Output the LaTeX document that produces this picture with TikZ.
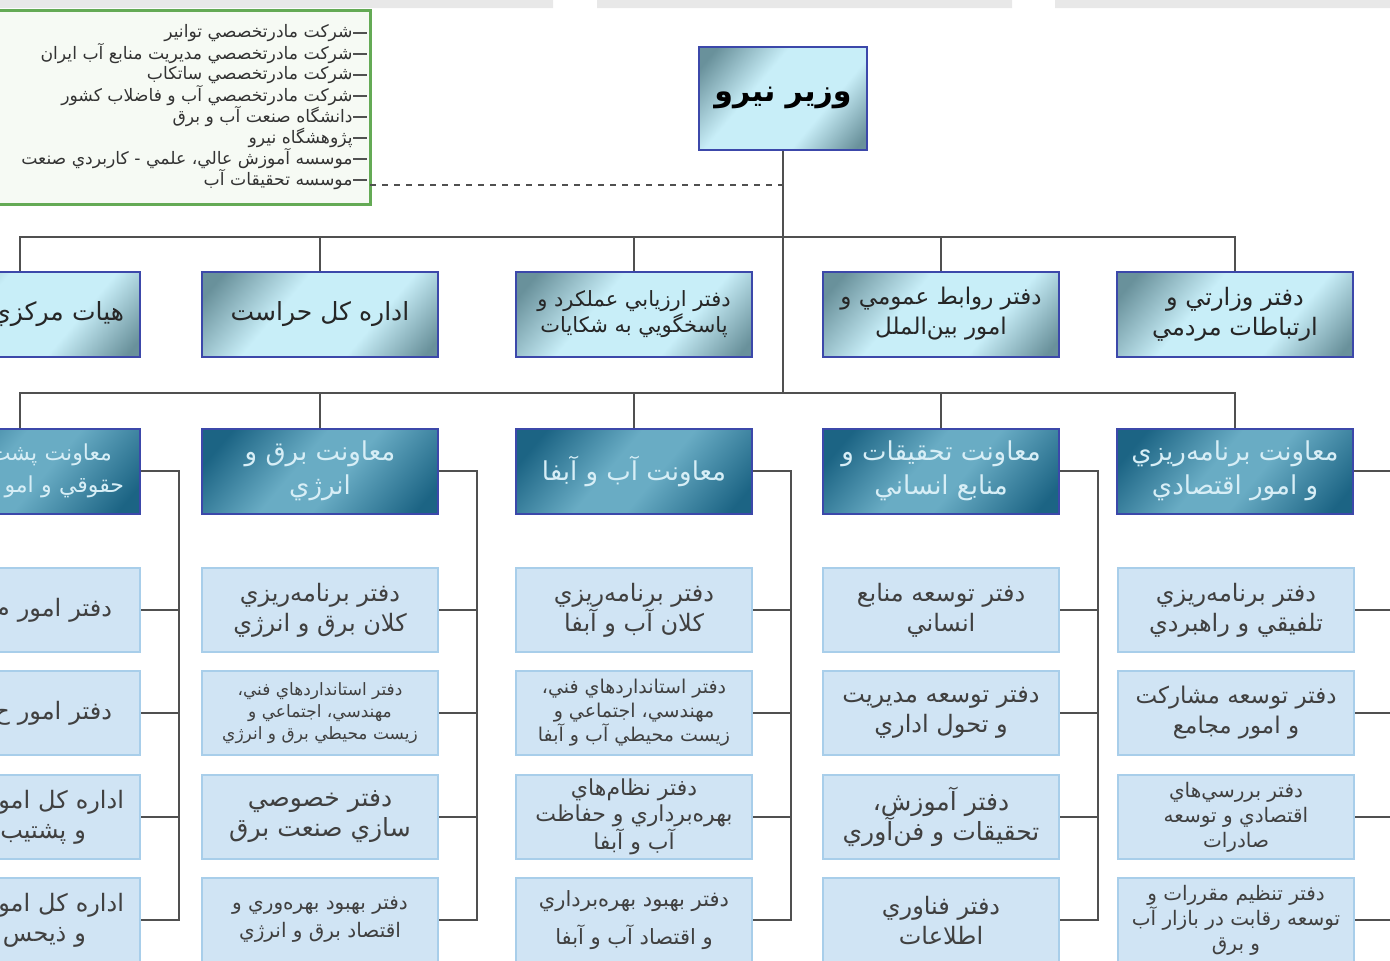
\documentclass[tikz,border=0pt]{standalone}
\usepackage{fontspec}
\newfontfamily\fa[Script=Arabic]{DejaVu Sans}
\TeXXeTstate=1
\usetikzlibrary{positioning}
\newcommand{\rl}[1]{\beginR #1\endR}
\newcommand{\fz}[2]{\fontsize{#1}{#2}\selectfont}
\definecolor{wirec}{RGB}{80,80,80}
\definecolor{edgeb}{RGB}{60,72,170}
\definecolor{cyanl}{RGB}{200,238,248}
\definecolor{tealg}{RGB}{105,145,155}
\definecolor{teald}{RGB}{28,100,132}
\definecolor{tealm}{RGB}{105,172,196}
\definecolor{deptext}{RGB}{215,238,246}
\definecolor{paleb}{RGB}{208,228,244}
\definecolor{paleedge}{RGB}{168,206,234}
\definecolor{greenb}{RGB}{100,170,85}
\definecolor{greenf}{RGB}{246,250,244}
\definecolor{barg}{RGB}{232,232,232}
\pgfdeclarehorizontalshading{glowlight}{100bp}{color(0bp)=(tealg); color(20bp)=(tealg); color(40bp)=(cyanl); color(64bp)=(cyanl); color(82bp)=(tealg); color(100bp)=(tealg)}
\pgfdeclarehorizontalshading{glowdark}{100bp}{color(0bp)=(teald); color(22bp)=(teald); color(44bp)=(tealm); color(56bp)=(tealm); color(80bp)=(teald); color(100bp)=(teald)}

\begin{document}
\begin{tikzpicture}[x=0.5pt,y=-0.5pt,
    wire/.style={draw=wirec,line width=0.9pt},
    head/.style={draw=edgeb,line width=1pt,shading=glowlight,shading angle=-40,
      minimum width=118pt,minimum height=42.5pt,inner sep=2pt,align=center,
      text=black!85,font=\fa\fz{12}{15}},
    deputy/.style={head,shading=glowdark,text=deptext},
    office/.style={draw=paleedge,line width=1.4pt,fill=paleb,minimum width=118pt,
      minimum height=42pt,inner sep=2pt,align=center,text=black!75,font=\fa\fz{12}{15}},
    cut/.style={text width=104pt,align=right,inner xsep=8pt},
    sub/.style={draw=greenb,line width=1.5pt,fill=greenf,minimum width=190pt,minimum height=97pt},
    subtext/.style={inner sep=0pt,text=black!80,font=\fa\fz{8.6}{10}}]
            \useasboundingbox (0,0) rectangle (1390,960);
            \clip (0,0) rectangle (1390,960);
            \fill[white] (0,0) rectangle (1390,960);
            \fill[barg] (0,0) rectangle (553,8) (597,0) rectangle (1012,8) (1055,0) rectangle (1390,8);

            \node[sub] (subs) at (180,107) {};
            \foreach \t [count=\i] in {{شرکت مادرتخصصي توانير},{شرکت مادرتخصصي مديريت منابع آب ايران},
              {شرکت مادرتخصصي ساتکاب},{شرکت مادرتخصصي آب و فاضلاب کشور},{دانشگاه صنعت آب و برق},
              {پژوهشگاه نيرو},{موسسه آموزش عالي، علمي - کاربردي صنعت},{موسسه تحقيقات آب}}{
              \node[subtext,anchor=east] (s\i) at (353,{12+21*\i}) {\rl{\t}};
              \draw[wirec,line width=0.8pt] (s\i.east) -- ++(14,0);
            }

            \node[head,minimum width=84pt,minimum height=51.5pt,font=\fa\bfseries\fz{15}{18},text=black] (min) at (783,98) {\rl{وزير نيرو}};
            \coordinate (dsh) at (370,185);
            \coordinate (b1) at (783,237);
            \coordinate (b2) at (783,393);

            \node[head,cut,font=\fa\fz{12.5}{16}] (hA) at (20,314) {\rl{هيات مرکزي}};
            \node[head,font=\fa\fz{12.5}{16}] (hB) at (320,314) {\rl{اداره کل حراست}};
            \node[head,font=\fa\fz{10.5}{13}] (hC) at (634,314) {\rl{دفتر ارزيابي عملکرد و}\\\rl{پاسخگويي به شکايات}};
            \node[head,font=\fa\fz{11.5}{15}] (hD) at (941,314) {\rl{دفتر روابط عمومي و}\\\rl{امور بين‌الملل}};
            \node[head] (hE) at (1235,314) {\rl{دفتر وزارتي و}\\\rl{ارتباطات مردمي}};

            \node[deputy,cut,font=\fa\fz{11}{16}] (dA) at (20,471) {\rl{معاونت پشت}\rule{6pt}{0pt}\\\rl{حقوقي و امو}};
            \node[deputy,font=\fa\fz{13}{17}] (dB) at (320,471) {\rl{معاونت برق و}\\\rl{انرژي}};
            \node[deputy,font=\fa\fz{13}{17}] (dC) at (634,471) {\rl{معاونت آب و آبفا}};
            \node[deputy,font=\fa\fz{13}{17}] (dD) at (941,471) {\rl{معاونت تحقيقات و}\\\rl{منابع انساني}};
            \node[deputy,font=\fa\fz{13}{17}] (dE) at (1235,471) {\rl{معاونت برنامه‌ريزي}\\\rl{و امور اقتصادي}};

            \node[office,cut] (oA1) at (20,610) {\rl{دفتر امور م}\rule{6pt}{0pt}};
            \node[office,cut] (oA2) at (20,713) {\rl{دفتر امور ح}\rule{6pt}{0pt}};
            \node[office,cut] (oA3) at (20,817) {\rl{اداره کل امو}\\\rl{و پشتيب}\rule{19pt}{0pt}};
            \node[office,cut] (oA4) at (20,920) {\rl{اداره کل امو}\\\rl{و ذيحس}\rule{19pt}{0pt}};

            \node[office] (oB1) at (320,610) {\rl{دفتر برنامه‌ريزي}\\\rl{کلان برق و انرژي}};
            \node[office,font=\fa\fz{8.5}{11}] (oB2) at (320,713) {\rl{دفتر استانداردهاي فني،}\\\rl{مهندسي، اجتماعي و}\\\rl{زيست محيطي برق و انرژي}};
            \node[office,font=\fa\fz{12.5}{15}] (oB3) at (320,817) {\rl{دفتر خصوصي}\\\rl{سازي صنعت برق}};
            \node[office,font=\fa\fz{10}{14}] (oB4) at (320,920) {\rl{دفتر بهبود بهره‌وري و}\\\rl{اقتصاد برق و انرژي}};

            \node[office] (oC1) at (634,610) {\rl{دفتر برنامه‌ريزي}\\\rl{کلان آب و آبفا}};
            \node[office,font=\fa\fz{9.5}{12}] (oC2) at (634,713) {\rl{دفتر استانداردهاي فني،}\\\rl{مهندسي، اجتماعي و}\\\rl{زيست محيطي آب و آبفا}};
            \node[office,font=\fa\fz{11}{13}] (oC3) at (634,817) {\rl{دفتر نظام‌هاي}\\\rl{بهره‌برداري و حفاظت}\\\rl{آب و آبفا}};
            \node[office,font=\fa\fz{10.5}{19}] (oC4) at (634,920) {\rl{دفتر بهبود بهره‌برداري}\\\rl{و اقتصاد آب و آبفا}};

            \node[office] (oD1) at (941,610) {\rl{دفتر توسعه منابع}\\\rl{انساني}};
            \node[office] (oD2) at (941,713) {\rl{دفتر توسعه مديريت}\\\rl{و تحول اداري}};
            \node[office,font=\fa\fz{12.5}{15}] (oD3) at (941,817) {\rl{دفتر آموزش،}\\\rl{تحقيقات و فن‌آوري}};
            \node[office] (oD4) at (941,920) {\rl{دفتر فناوري}\\\rl{اطلاعات}};

            \node[office] (oE1) at (1236,610) {\rl{دفتر برنامه‌ريزي}\\\rl{تلفيقي و راهبردي}};
            \node[office,font=\fa\fz{11.5}{15}] (oE2) at (1236,713) {\rl{دفتر توسعه مشارکت}\\\rl{و امور مجامع}};
            \node[office,font=\fa\fz{10}{12.5}] (oE3) at (1236,817) {\rl{دفتر بررسي‌هاي}\\\rl{اقتصادي و توسعه}\\\rl{صادرات}};
            \node[office,font=\fa\fz{10}{12.5}] (oE4) at (1236,920) {\rl{دفتر تنظيم مقررات و}\\\rl{توسعه رقابت در بازار آب}\\\rl{و برق}};

            \draw[wire,dashed] (dsh) -- (dsh -| min.south);
            \draw[wire] (min.south) -- (b2);
            \draw[wire] (hA.north) |- (b1) -| (hE.north);
            \foreach \n in {hB,hC,hD} \draw[wire] (\n.north) -- (\n.north |- b1);
            \draw[wire] (dA.north) |- (b2) -| (dE.north);
            \foreach \n in {dB,dC,dD} \draw[wire] (\n.north) -- (\n.north |- b2);
            \foreach \c in {A,B,C,D,E}{
              \draw[wire] (d\c.east) -- ++(38,0) coordinate (v\c) |- (o\c4.east);
              \foreach \k in {1,2,3} \draw[wire] (o\c\k.east) -- (o\c\k.east -| v\c);
            }
        \end{tikzpicture}
\end{document}
